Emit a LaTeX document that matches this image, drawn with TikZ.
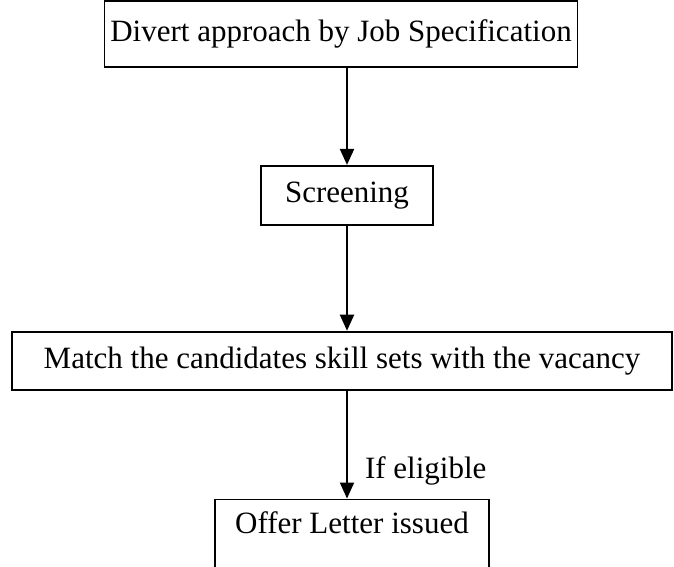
\documentclass[tikz,border=0pt]{standalone}
\usepackage{fontspec}
\setmainfont{Liberation Serif}
\usetikzlibrary{arrows.meta, positioning}
\tikzset{
    stage/.style={rectangle, draw, line width=1.8pt, inner sep=2pt, font=\fontsize{31}{36}\selectfont},
    arrow/.style={-{Triangle[length=16pt, width=14pt]}, line width=2pt},
    cond/.style={font=\fontsize{31}{36}\selectfont, inner sep=0pt},
}
\begin{document}
\begin{tikzpicture}[x=1pt, y=1pt]
    \useasboundingbox (0,0) rectangle (674,-566);

    % Stages
    \node[stage, minimum width=473pt, minimum height=66pt] (spec) at (341,-34) {Divert approach by Job Specification};
    \node[stage, minimum width=172pt, minimum height=59pt, below=97pt of spec, xshift=6pt] (screen) {Screening};
    \node[stage, minimum width=660pt, minimum height=58pt, below=105pt of screen, xshift=-5pt] (match) {Match the candidates skill sets with the vacancy};
    \node[stage, minimum width=274pt, inner ysep=13pt, text height=21pt, text depth=60pt, below=108pt of match, xshift=10pt] (offer) {Offer Letter issued};

    % Arrows
    \draw[arrow] (spec.south -| screen.north) -- (screen.north);
    \draw[arrow] (screen.south) -- (screen.south |- match.north);
    \draw[arrow] (match.south -| screen.south) -- (screen.south |- offer.north)
        node[cond, pos=0.74, right=17pt] (elig) {If eligible};
\end{tikzpicture}
\end{document}
